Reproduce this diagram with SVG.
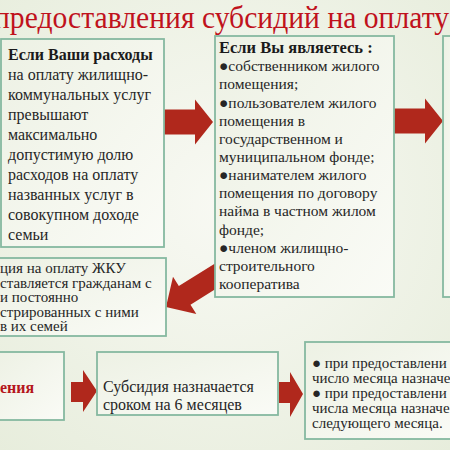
<svg xmlns="http://www.w3.org/2000/svg" width="450" height="450" viewBox="0 0 450 450">
<defs>
<radialGradient id="bg" cx="50%" cy="45%" r="75%">
<stop offset="0" stop-color="#f8f9f3"/>
<stop offset="1" stop-color="#e7eddc"/>
</radialGradient>
<linearGradient id="boxfill" x1="0" y1="0" x2="1" y2="1">
<stop offset="0" stop-color="#edf1e4"/>
<stop offset="1" stop-color="#fafbf6"/>
</linearGradient>
<polygon id="arr" points="-50,-12.5 -18,-12.5 -18,-22.5 0,0 -18,22.5 -18,12.5 -50,12.5"/>
</defs>
<style>
.box{fill:url(#boxfill);stroke:#86b9a0;stroke-width:1.8}
text{font-family:"Liberation Serif","DejaVu Serif","Noto Serif",serif}
.t{fill:#262626}
.b{font-weight:bold;fill:#1a1a1a}
.arrow{fill:#b0281c}
</style>
<rect width="450" height="450" fill="url(#bg)"/>
<text class="t" x="-6" y="28" font-family="Liberation Serif, serif" font-size="32" style="fill:#c0121c" textLength="455" lengthAdjust="spacingAndGlyphs">предоставления субсидий на оплату</text>

<g id="connectors">
<use href="#arr" class="arrow" transform="translate(213,122)"/>
<use href="#arr" class="arrow" transform="translate(443,121)"/>
<polygon class="arrow" points="-68,-11 -22,-11 -22,-22 0,0 -22,22 -22,11 -68,11" transform="translate(166,307) rotate(148)"/>
<polygon class="arrow" points="71,382 83,382 83,370 97,391 83,412 83,402 71,402"/>
<polygon class="arrow" points="279,382 290,382 290,372 303,394 290,417 290,403 279,403"/>
</g>

<g id="box1">
<rect class="box" x="1" y="39" width="163" height="208"/>
<text class="t b" x="8" y="60" font-family="Liberation Serif, serif" font-size="16">Если Ваши расходы</text>
<text class="t" font-family="Liberation Serif, serif" font-size="16">
<tspan x="8" y="80">на оплату жилищно-</tspan>
<tspan x="8" y="100">коммунальных услуг</tspan>
<tspan x="8" y="120">превышают</tspan>
<tspan x="8" y="140">максимально</tspan>
<tspan x="8" y="160">допустимую долю</tspan>
<tspan x="8" y="180">расходов на оплату</tspan>
<tspan x="8" y="200">названных услуг в</tspan>
<tspan x="8" y="220">совокупном доходе</tspan>
<tspan x="8" y="240">семьи</tspan>
</text>
</g>

<g id="box2">
<rect class="box" x="215" y="36" width="179" height="261"/>
<text class="t b" x="219" y="53" font-family="Liberation Serif, serif" font-size="16.5">Если Вы являетесь :</text>
<text class="t" font-family="Liberation Serif, serif" font-size="15.5">
<tspan x="219" y="71.2">●собственником жилого</tspan>
<tspan x="219" y="89.3">помещения;</tspan>
<tspan x="219" y="107.5">●пользователем жилого</tspan>
<tspan x="219" y="125.6">помещения в</tspan>
<tspan x="219" y="143.8">государственном  и</tspan>
<tspan x="219" y="161.9">муниципальном фонде;</tspan>
<tspan x="219" y="180.1">●нанимателем жилого</tspan>
<tspan x="219" y="198.2">помещения по договору</tspan>
<tspan x="219" y="216.4">найма в частном жилом</tspan>
<tspan x="219" y="234.5">фонде;</tspan>
<tspan x="219" y="252.7">●членом жилищно-</tspan>
<tspan x="219" y="270.8">строительного</tspan>
<tspan x="219" y="289">кооператива</tspan>
</text>
</g>

<g id="box3">
<rect class="box" x="443" y="36" width="12" height="261"/>
</g>

<g id="box4">
<rect class="box" x="-5" y="258" width="171" height="78"/>
<text class="t" font-family="Liberation Serif, serif" font-size="15">
<tspan x="0" y="273">ция на оплату ЖКУ</tspan>
<tspan x="0" y="287.5">ставляется гражданам с</tspan>
<tspan x="0" y="302">и постоянно</tspan>
<tspan x="0" y="316.5">стрированных с ними</tspan>
<tspan x="0" y="331">в их семей</tspan>
</text>
</g>

<g id="box5">
<rect class="box" x="-5" y="352" width="69" height="68"/>
<text class="t b" x="0" y="393" font-family="Liberation Serif, serif" font-size="16" style="fill:#b5161c">ения</text>
</g>

<g id="box6">
<rect class="box" x="97" y="352" width="181" height="63"/>
<text class="t" font-family="Liberation Serif, serif" font-size="16">
<tspan x="103" y="392">Субсидия назначается</tspan>
<tspan x="103" y="410">сроком на 6 месяцев</tspan>
</text>
</g>

<g id="box7">
<rect class="box" x="305" y="342" width="150" height="97"/>
<text class="t" font-family="Liberation Serif, serif" font-size="15">
<tspan x="312" y="368">● при предоставлени</tspan>
<tspan x="312" y="383">число месяца назначе</tspan>
<tspan x="312" y="398">● при предоставлени</tspan>
<tspan x="312" y="413">числа месяца назначе</tspan>
<tspan x="312" y="428">следующего месяца.</tspan>
</text>
</g>
</svg>
